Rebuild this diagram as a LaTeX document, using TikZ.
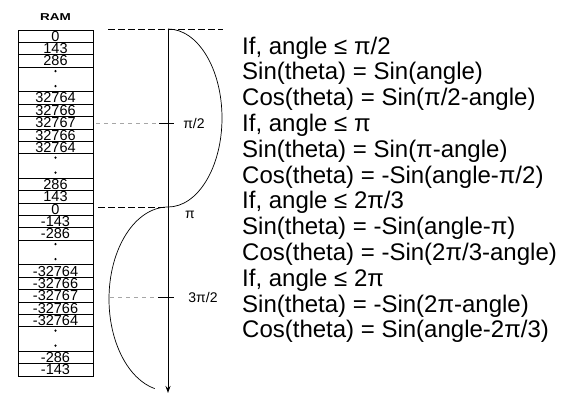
\documentclass[tikz,border=0pt]{standalone}
\usepackage{fontspec}
\setmainfont{Liberation Sans}
\usetikzlibrary{arrows.meta}
\begin{document}
\begin{tikzpicture}[x=1pt,y=-1pt,
  cell/.style={draw, line width=0.7pt, minimum width=75pt, minimum height=12.36pt,
    inner sep=0pt, font=\fontsize{14.5}{14.5}\selectfont},
  dotblock/.style={cell, minimum height=24.72pt},
  rdot/.style={circle, fill, inner sep=0pt, minimum size=2.4pt},
  axisline/.style={line width=0.9pt},
  curve/.style={line width=0.7pt},
  guide/.style={line width=0.6pt, dash pattern=on 7pt off 3pt},
  faint/.style={line width=0.5pt, gray!70, dash pattern=on 4pt off 4pt},
  tick/.style={line width=0.8pt},
  anglab/.style={font=\fontsize{14}{14}\selectfont, inner sep=0pt},
  rule/.style={font=\fontsize{24}{24}\selectfont, anchor=base west, inner sep=0pt}]
\useasboundingbox (0,0) rectangle (574,394);

% RAM table
\node[font=\fontsize{10}{10}\selectfont\bfseries, inner sep=0pt] (ram) at (55.5,17) {\scalebox{1.35}[1]{RAM}};
\foreach \i/\t in {0/0,1/143,2/286,5/32764,6/32766,7/32767,8/32766,9/32764,
                   12/286,13/143,14/0,15/-143,16/-286,
                   19/-32764,20/-32766,21/-32767,22/-32766,23/-32764,26/-286,27/-143}
  \node[cell] (c\i) at (55.5,{30+(\i+0.5)*12.36}) {\t};
\foreach \i in {3,10,17,24} {
  \node[dotblock] (d\i) at (55.5,{30+(\i+1)*12.36}) {};
  \node[rdot] (d\i a) at (55.5,{30+\i*12.36+4}) {};
  \node[rdot] (d\i b) at (55.5,{30+\i*12.36+19}) {};
}

% axis and curve
\coordinate (top) at (168,29);
\coordinate (pi) at (168,207);
\coordinate (bot) at (168,393);
\coordinate (topL) at (108,29);
\coordinate (topR) at (223,29);
\draw[guide] (topL) -- (topR);
\draw[axisline, -{Stealth[length=7pt,width=5pt]}] (top) -- (bot);
\draw[curve] (top) arc[start angle=-90, end angle=90, x radius=54, y radius=89]
   arc[start angle=-90, end angle=-257, x radius=59, y radius=92];

% pi/2
\coordinate (h1L) at (96,123);
\coordinate (h1a) at (159,123);
\coordinate (h1b) at (174,123);
\draw[faint] (h1L) -- (h1a);
\draw[tick] (h1a) -- (h1b);
\node[anglab] (l1) at (194,123) {π/2};

% pi
\coordinate (h2L) at (98,207);
\draw[guide] (h2L) -- (pi);
\node[anglab] (l2) at (190,215) {π};

% 3pi/2
\coordinate (h3L) at (110,297);
\coordinate (h3a) at (158,297);
\coordinate (h3b) at (174,297);
\draw[faint] (h3L) -- (h3a);
\draw[tick] (h3a) -- (h3b);
\node[anglab] (l3) at (203,297) {3π/2};

% rules text
\node[rule] (t1) at (242,{54+0*25.8}) {If, angle ≤ π/2};
\node[rule] (t2) at (242,{54+1*25.8}) {Sin(theta) = Sin(angle)};
\node[rule] (t3) at (242,{54+2*25.8}) {Cos(theta) = Sin(π/2-angle)};
\node[rule] (t4) at (242,{54+3*25.8}) {If, angle ≤ π};
\node[rule] (t5) at (242,{54+4*25.8}) {Sin(theta) = Sin(π-angle)};
\node[rule] (t6) at (242,{54+5*25.8}) {Cos(theta) = -Sin(angle-π/2)};
\node[rule] (t7) at (242,{54+6*25.8}) {If, angle ≤ 2π/3};
\node[rule] (t8) at (242,{54+7*25.8}) {Sin(theta) = -Sin(angle-π)};
\node[rule] (t9) at (242,{54+8*25.8}) {Cos(theta) = -Sin(2π/3-angle)};
\node[rule] (t10) at (242,{54+9*25.8}) {If, angle ≤ 2π};
\node[rule] (t11) at (242,{54+10*25.8}) {Sin(theta) = -Sin(2π-angle)};
\node[rule] (t12) at (242,{54+11*25.8}) {Cos(theta) = Sin(angle-2π/3)};
\end{tikzpicture}
\end{document}
